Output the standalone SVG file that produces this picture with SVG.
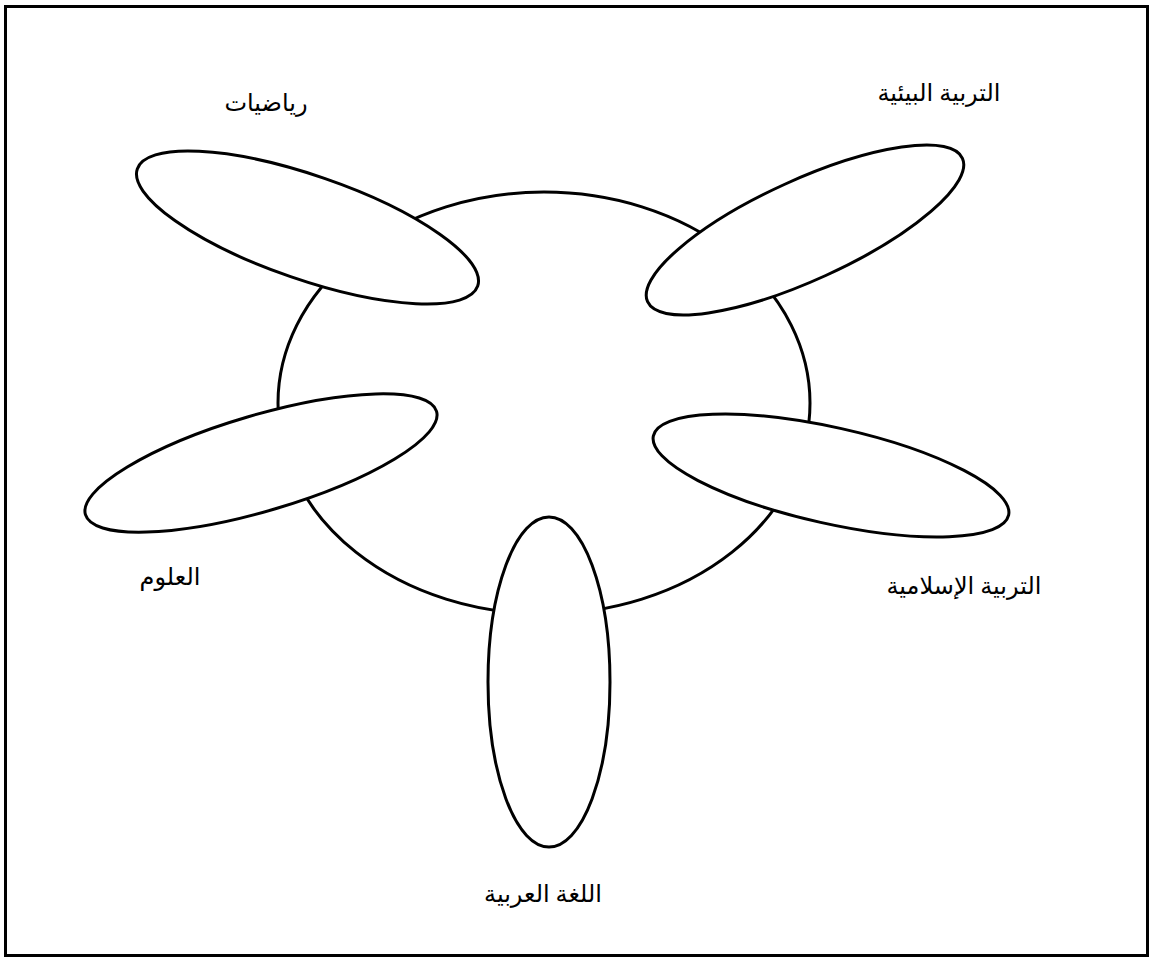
<svg xmlns="http://www.w3.org/2000/svg" width="1152" height="958" viewBox="0 0 1152 958">
<style>
.shape{fill:#fff;stroke:#000;stroke-width:3}
.lbl{font-family:"Liberation Serif","DejaVu Sans",serif;font-size:24px;fill:#000;text-anchor:middle}
</style>
<rect x="0" y="0" width="1152" height="958" fill="#fff"/>
<rect id="frame" x="5.5" y="6.5" width="1142" height="949" fill="none" stroke="#000" stroke-width="3"/>
<g id="connectors"></g>
<g id="center"><ellipse class="shape" cx="544" cy="403" rx="266" ry="211"/></g>
<g id="math">
<ellipse class="shape" cx="307.5" cy="227.5" rx="180" ry="52" transform="rotate(19 307.5 227.5)"/>
<text class="lbl" x="266" y="111" direction="rtl">رياضيات</text>
</g>
<g id="env">
<ellipse class="shape" cx="805" cy="230" rx="173" ry="50" transform="rotate(-24.5 805 230)"/>
<text class="lbl" x="939" y="101" direction="rtl">التربية البيئية</text>
</g>
<g id="science">
<ellipse class="shape" cx="261" cy="463" rx="183" ry="48" transform="rotate(-16.4 261 463)"/>
<text class="lbl" x="170" y="585" direction="rtl">العلوم</text>
</g>
<g id="islamic">
<ellipse class="shape" cx="831" cy="475.5" rx="182" ry="48" transform="rotate(12.6 831 475.5)"/>
<text class="lbl" x="964" y="594" direction="rtl">التربية الإسلامية</text>
</g>
<g id="arabic">
<ellipse class="shape" cx="549" cy="682" rx="61" ry="165"/>
<text class="lbl" x="543" y="902" direction="rtl">اللغة العربية</text>
</g>
</svg>
